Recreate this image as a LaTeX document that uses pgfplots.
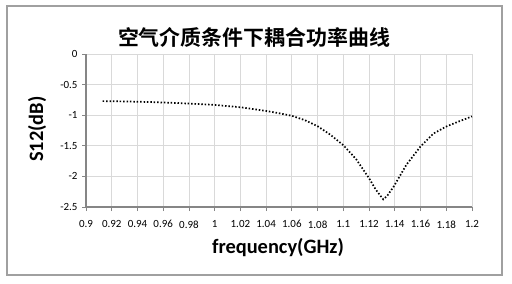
\documentclass[border=0pt]{standalone}
\usepackage{pgfplots}
\pgfplotsset{compat=1.18}
\usepackage{fontspec}
\setmainfont{Carlito}
\newfontfamily\cjk{Noto Sans CJK SC Bold}
\definecolor{axgray}{HTML}{868686}
\definecolor{gridgray}{HTML}{D9D9D9}
\definecolor{bordergray}{HTML}{A0A0A0}
\begin{document}
\begin{tikzpicture}[x=1bp,y=1bp]
\useasboundingbox (0,0) rectangle (512,-283);
\fill[white] (0,0) rectangle (512,-283);
\draw[bordergray, line width=1.3bp] (7,-6) rectangle (502,-275);
\begin{axis}[at={(86bp,-207bp)}, anchor=south west, scale only axis,
  width=386bp, height=153bp,
  xmin=0.9, xmax=1.2, ymin=-2.5, ymax=0,
  xtick={0.9,0.92,0.94,0.96,0.98,1,1.02,1.04,1.06,1.08,1.1,1.12,1.14,1.16,1.18,1.2},
  xticklabels={0.9,0.92,0.94,0.96,0.98,1,1.02,1.04,1.06,1.08,1.1,1.12,1.14,1.16,1.18,1.2},
  ytick={-2.5,-2,-1.5,-1,-0.5,0},
  yticklabels={-2.5,-2,-1.5,-1,-0.5,0},
  grid=major, grid style={gridgray, line width=0.8bp},
  axis x line=bottom, axis y line=left,
  axis line style={-, axgray, line width=1.3bp},
  tick align=outside, major tick length=4bp,
  tick style={axgray, line width=0.8bp},
  ticklabel style={font=\fontsize{11}{13}\selectfont, text=black},
  xticklabel style={yshift=-6bp},
  yticklabel style={xshift=-1bp},
  clip=false]
\addplot[black, line width=1.7bp, dash pattern=on 1.5bp off 1.9bp] coordinates {
(0.913,-0.770) (0.93,-0.775) (0.95,-0.785) (0.97,-0.800) (0.99,-0.820)
(1.00,-0.832) (1.02,-0.870) (1.04,-0.930) (1.05,-0.968) (1.06,-1.010)
(1.07,-1.080) (1.08,-1.180) (1.09,-1.320) (1.10,-1.490) (1.11,-1.720)
(1.12,-2.030) (1.125,-2.210) (1.131,-2.375) (1.134,-2.320) (1.139,-2.170)
(1.149,-1.810) (1.16,-1.510) (1.17,-1.300) (1.18,-1.185) (1.19,-1.100)
(1.20,-1.020)};
\end{axis}
\node[font=\cjk\fontsize{21}{24}\selectfont] at (254,-37) {空气介质条件下耦合功率曲线};
\node[font=\bfseries\fontsize{20.5}{22}\selectfont] at (278,-248) {frequency(GHz)};
\node[font=\bfseries\fontsize{20.5}{22}\selectfont, rotate=90] at (37,-129) {S12(dB)};
\end{tikzpicture}
\end{document}
